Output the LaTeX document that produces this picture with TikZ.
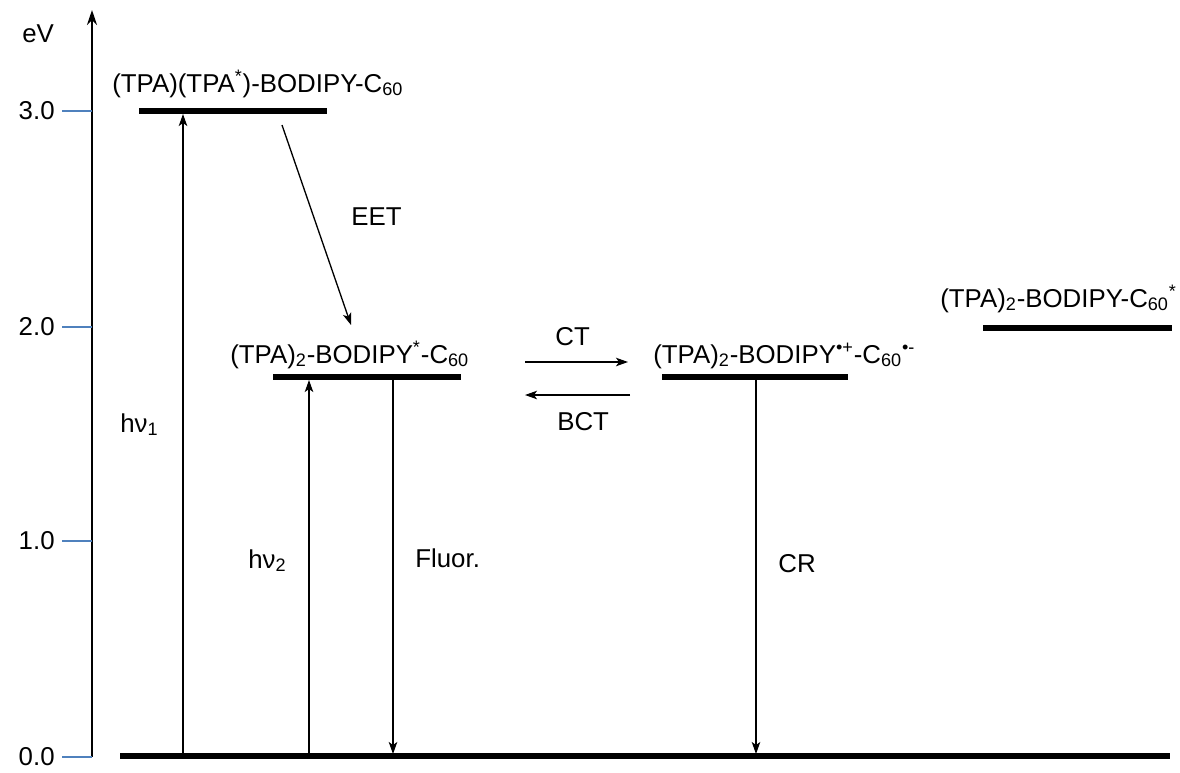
\documentclass[tikz,border=0pt]{standalone}
\usepackage{fontspec}
\setmainfont{Liberation Sans}
\usetikzlibrary{arrows.meta}
\definecolor{tickblue}{RGB}{79,129,189}
\begin{document}
\begin{tikzpicture}[x=0.02cm,y=-0.02cm,
  lbl/.style={anchor=base west,inner sep=0pt,font=\fontsize{14.7}{17}\selectfont},
  tlbl/.style={anchor=east,inner sep=0pt,font=\fontsize{14.7}{17}\selectfont},
  level/.style={line width=2.9pt},
  axis/.style={line width=1.1pt,-{Stealth[length=0.3cm,width=0.2cm]}},
  tick/.style={tickblue,line width=0.6pt},
  trans/.style={line width=0.75pt,-{Stealth[length=0.24cm,width=0.17cm,inset=0.06cm]}}]
\useasboundingbox (0,0) rectangle (1180,772);
% axis
\coordinate (ax0) at (92,757);
\coordinate (axT) at (92,10);
\draw[axis] (ax0) -- (axT);
\node[lbl] (ev) at (22,42) {eV};
% ticks
\foreach \i/\v/\y in {0/0.0/757,1/1.0/541,2/2.0/327,3/3.0/111}{
  \coordinate (tk\i) at (62,\y);
  \coordinate (ta\i) at (92,\y);
  \draw[tick] (tk\i) -- (ta\i);
  \node[tlbl] (tl\i) at (55,\y) {\v};
}
% ground
\coordinate (g0) at (120,756);
\coordinate (g1) at (1170,756);
\draw[level] (g0) -- (g1);
% levels
\coordinate (L1a) at (139,111); \coordinate (L1b) at (327,111);
\draw[level] (L1a) -- (L1b);
\node[lbl] (L1t) at (112,92) {(TPA)(TPA\textsuperscript{*})-BODIPY-C\textsubscript{60}};
\coordinate (L2a) at (273,377); \coordinate (L2b) at (461,377);
\draw[level] (L2a) -- (L2b);
\node[lbl] (L2t) at (230,363) {(TPA)\textsubscript{2}-BODIPY\textsuperscript{*}-C\textsubscript{60}};
\coordinate (L3a) at (662,377); \coordinate (L3b) at (848,377);
\draw[level] (L3a) -- (L3b);
\node[lbl] (L3t) at (653,363) {(TPA)\textsubscript{2}-BODIPY\textsuperscript{•+}-C\textsubscript{60}\textsuperscript{•-}};
\coordinate (L4a) at (983,328); \coordinate (L4b) at (1172,328);
\draw[level] (L4a) -- (L4b);
\node[lbl] (L4t) at (940,307) {(TPA)\textsubscript{2}-BODIPY-C\textsubscript{60}\textsuperscript{*}};
% transitions
\coordinate (h1s) at (183,754); \coordinate (h1e) at (183,114);
\draw[trans] (h1s) -- (h1e);
\node[lbl] (h1t) at (120,432) {hν\textsubscript{1}};
\coordinate (es) at (282,125); \coordinate (ee) at (351,325);
\draw[trans] (es) -- (ee);
\node[lbl] (et) at (351,225) {EET};
\coordinate (h2s) at (309,754); \coordinate (h2e) at (309,380);
\draw[trans] (h2s) -- (h2e);
\node[lbl] (h2t) at (248,568) {hν\textsubscript{2}};
\coordinate (fs) at (393,380); \coordinate (fe) at (393,754);
\draw[trans] (fs) -- (fe);
\node[lbl] (ft) at (415,567) {Fluor.};
\coordinate (cts) at (525,362); \coordinate (cte) at (628,362);
\draw[trans] (cts) -- (cte);
\node[lbl] (ctt) at (555,345) {CT};
\coordinate (bs) at (630,395); \coordinate (be) at (525,395);
\draw[trans] (bs) -- (be);
\node[lbl] (bt) at (557,430) {BCT};
\coordinate (crs) at (756,380); \coordinate (cre) at (756,754);
\draw[trans] (crs) -- (cre);
\node[lbl] (crt) at (778,572) {CR};
\end{tikzpicture}
\end{document}
